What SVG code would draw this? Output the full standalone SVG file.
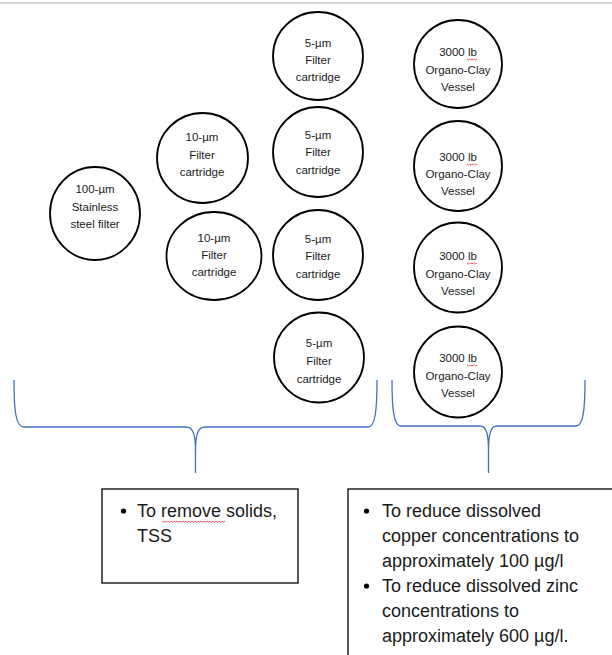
<svg xmlns="http://www.w3.org/2000/svg" width="612" height="655" viewBox="0 0 612 655">
  <style>
    .unit ellipse { fill: #ffffff; stroke: #000000; stroke-width: 1.8; }
    .unit text { font-family: "Liberation Sans", Arial, sans-serif; font-size: 11.5px; fill: #1a1a1a; text-anchor: middle; }
    .brace { fill: none; stroke: #4472c4; stroke-width: 1.3; }
    .note rect { fill: #ffffff; stroke: #000000; stroke-width: 1.3; }
    .note text { font-family: "Liberation Sans", Arial, sans-serif; font-size: 18px; fill: #1a1a1a; }
    .bullet { fill: #000000; }
    .squiggle { fill: none; stroke: #e03030; stroke-width: 0.8; }
  </style>
  <defs>
    <!-- short red wavy underline (spell-check mark) -->
    <path id="wave10" class="squiggle" d="M0,0 l1.25,1 l1.25,-1 l1.25,1 l1.25,-1 l1.25,1 l1.25,-1 l1.25,1 l1.25,-1"/>
  </defs>

  <rect x="0" y="0" width="612" height="655" fill="#ffffff"/>
  <line x1="0" y1="3" x2="612" y2="3" stroke="#c8c8c8" stroke-width="1.5"/>

  <!-- coarse stage -->
  <g id="n-steel-100" class="unit">
    <ellipse cx="95" cy="213.5" rx="45" ry="46.5"/>
    <text x="95" y="193">100-µm</text>
    <text x="95" y="211">Stainless</text>
    <text x="95" y="228">steel filter</text>
  </g>

  <!-- 10 micron stage -->
  <g id="n-cart10-a" class="unit">
    <ellipse cx="202.5" cy="158" rx="45.5" ry="45"/>
    <text x="202" y="141">10-µm</text>
    <text x="202" y="159">Filter</text>
    <text x="202" y="176">cartridge</text>
  </g>
  <g id="n-cart10-b" class="unit">
    <ellipse cx="214" cy="256" rx="47.5" ry="44"/>
    <text x="214" y="242">10-µm</text>
    <text x="214" y="259">Filter</text>
    <text x="214" y="276">cartridge</text>
  </g>

  <!-- 5 micron stage -->
  <g id="n-cart5-a" class="unit">
    <ellipse cx="318" cy="56" rx="45" ry="44"/>
    <text x="318" y="47">5-µm</text>
    <text x="318" y="64">Filter</text>
    <text x="318" y="81">cartridge</text>
  </g>
  <g id="n-cart5-b" class="unit">
    <ellipse cx="318" cy="152" rx="45" ry="45"/>
    <text x="318" y="139">5-µm</text>
    <text x="318" y="156">Filter</text>
    <text x="318" y="174">cartridge</text>
  </g>
  <g id="n-cart5-c" class="unit">
    <ellipse cx="318" cy="255" rx="45" ry="45"/>
    <text x="318" y="243">5-µm</text>
    <text x="318" y="260">Filter</text>
    <text x="318" y="278">cartridge</text>
  </g>
  <g id="n-cart5-d" class="unit">
    <ellipse cx="319" cy="357.5" rx="45" ry="45"/>
    <text x="319" y="347">5-µm</text>
    <text x="319" y="365">Filter</text>
    <text x="319" y="383">cartridge</text>
  </g>

  <!-- organo-clay vessels -->
  <g id="n-clay-a" class="unit">
    <ellipse cx="458" cy="64" rx="44" ry="44"/>
    <text x="458" y="56">3000 lb</text>
    <use href="#wave10" x="467" y="59"/>
    <text x="458" y="74">Organo-Clay</text>
    <text x="458" y="91">Vessel</text>
  </g>
  <g id="n-clay-b" class="unit">
    <ellipse cx="458" cy="166" rx="44" ry="45"/>
    <text x="458" y="161">3000 lb</text>
    <use href="#wave10" x="467" y="164"/>
    <text x="458" y="178">Organo-Clay</text>
    <text x="458" y="195">Vessel</text>
  </g>
  <g id="n-clay-c" class="unit">
    <ellipse cx="458" cy="267.5" rx="44" ry="45"/>
    <text x="458" y="260">3000 lb</text>
    <use href="#wave10" x="467" y="263"/>
    <text x="458" y="278">Organo-Clay</text>
    <text x="458" y="295">Vessel</text>
  </g>
  <g id="n-clay-d" class="unit">
    <ellipse cx="458" cy="372" rx="44" ry="45.5"/>
    <text x="458" y="362">3000 lb</text>
    <use href="#wave10" x="467" y="365"/>
    <text x="458" y="380">Organo-Clay</text>
    <text x="458" y="397">Vessel</text>
  </g>

  <!-- grouping braces -->
  <g id="connectors">
    <path class="brace" d="M14,380 C14,412 16,427 24,427 L186,427 C193,427 195.5,434 195.5,452 L195.5,473 M195.5,452 C195.5,434 198,427 205,427 L368,427 C375,427 377,412 377,380"/>
    <path class="brace" d="M392,380 C392,411 394,426 401,426 L480,426 C486,426 488.5,433 488.5,451 L488.5,473 M488.5,451 C488.5,433 491,426 497,426 L576,426 C583,426 585,411 585,380"/>
  </g>

  <!-- notes -->
  <g id="note-solids" class="note">
    <rect x="102" y="489" width="196" height="94"/>
    <circle class="bullet" cx="123.5" cy="511" r="2.6"/>
    <text x="137" y="517">To remove solids,</text>
    <path class="squiggle" d="M162,521 l1.5,1.2 l1.5,-1.2 l1.5,1.2 l1.5,-1.2 l1.5,1.2 l1.5,-1.2 l1.5,1.2 l1.5,-1.2 l1.5,1.2 l1.5,-1.2 l1.5,1.2 l1.5,-1.2 l1.5,1.2 l1.5,-1.2 l1.5,1.2 l1.5,-1.2 l1.5,1.2 l1.5,-1.2 l1.5,1.2 l1.5,-1.2 l1.5,1.2 l1.5,-1.2 l1.5,1.2 l1.5,-1.2 l1.5,1.2 l1.5,-1.2 l1.5,1.2 l1.5,-1.2 l1.5,1.2 l1.5,-1.2 l1.5,1.2 l1.5,-1.2 l1.5,1.2 l1.5,-1.2 l1.5,1.2 l1.5,-1.2 l1.5,1.2 l1.5,-1.2 l1.5,1.2 l1.5,-1.2 l1.5,1.2 l1.5,-1.2"/>
    <text x="137" y="542">TSS</text>
  </g>
  <g id="note-metals" class="note">
    <rect x="348" y="489" width="280" height="180"/>
    <circle class="bullet" cx="366.5" cy="511" r="2.6"/>
    <text x="382" y="517">To reduce dissolved</text>
    <text x="382" y="542">copper concentrations to</text>
    <text x="382" y="567">approximately 100 µg/l</text>
    <circle class="bullet" cx="366.5" cy="586" r="2.6"/>
    <text x="382" y="592">To reduce dissolved zinc</text>
    <text x="382" y="617">concentrations to</text>
    <text x="382" y="642">approximately 600 µg/l.</text>
  </g>
</svg>
